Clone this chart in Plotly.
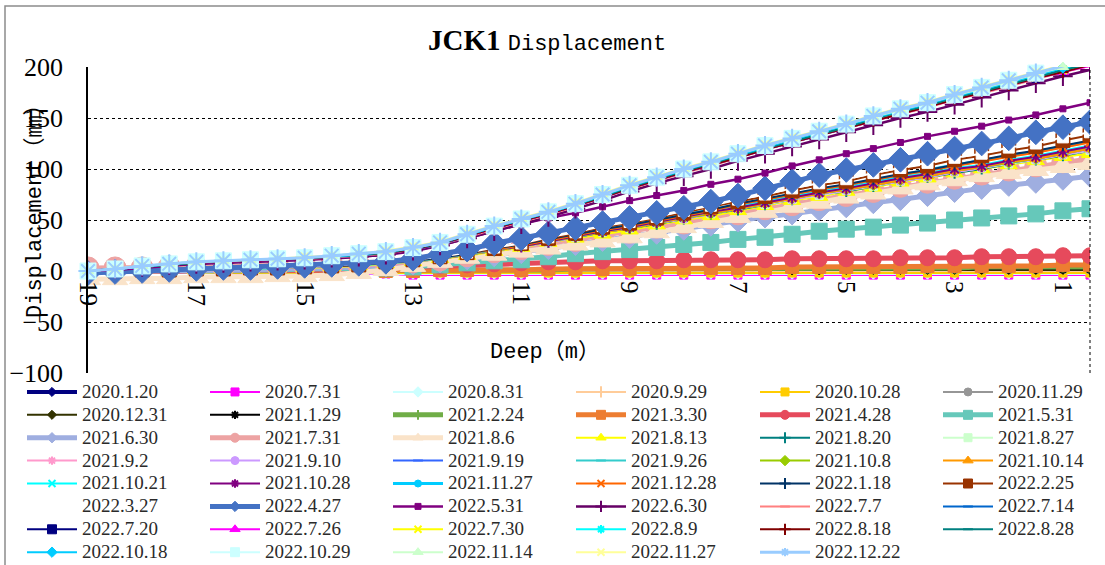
import plotly.graph_objects as go

# ---------------- data ----------------
depth_m = [19, 18.5, 18, 17.5, 17, 16.5, 16, 15.5, 15, 14.5, 14, 13.5, 13, 12.5, 12, 11.5, 11, 10.5, 10, 9.5,
           9, 8.5, 8, 7.5, 7, 6.5, 6, 5.5, 5, 4.5, 4, 3.5, 3, 2.5, 2, 1.5, 1, 0.5]
tick_depths = [19, 17, 15, 13, 11, 9, 7, 5, 3, 1]
tick_labels = ["19", "17", "15", "13", "11", "9", "7", "5", "3", "1"]

dates = ["2020.1.20", "2020.7.31", "2020.8.31", "2020.9.29", "2020.10.28", "2020.11.29",
         "2020.12.31", "2021.1.29", "2021.2.24", "2021.3.30", "2021.4.28", "2021.5.31",
         "2021.6.30", "2021.7.31", "2021.8.6", "2021.8.13", "2021.8.20", "2021.8.27",
         "2021.9.2", "2021.9.10", "2021.9.19", "2021.9.26", "2021.10.8", "2021.10.14",
         "2021.10.21", "2021.10.28", "2021.11.27", "2021.12.28", "2022.1.18", "2022.2.25",
         "2022.3.27", "2022.4.27", "2022.5.31", "2022.6.30", "2022.7.7", "2022.7.14",
         "2022.7.20", "2022.7.26", "2022.7.30", "2022.8.9", "2022.8.18", "2022.8.28",
         "2022.10.18", "2022.10.29", "2022.11.14", "2022.11.27", "2022.12.22"]

s2020_01_20 = [0,0,0,0,0,0,0,0,0,0, 0,0,0,0,0,0,0,0,0,0, 0,0,0,0,0,0,0,0,0,0, 0,0,0,0,0,0,0,0]
s2020_07_31 = [0,-1,-1,-2,-2,-2,-3,-3,-3,-3, -3,-3,-4,-4,-4,-4,-4,-4,-4,-4, -4,-4,-4,-4,-4,-4,-4,-4,-4,-4, -4,-4,-4,-4,-4,-4,-4,-4]
s2020_08_31 = [0,-1,-1,-1,-2,-2,-2,-2,-2,-2, -2,-3,-3,-3,-3,-3,-3,-3,-3,-3, -3,-3,-3,-3,-3,-3,-3,-3,-3,-3, -3,-3,-3,-3,-3,-3,-3,-3]
s2020_09_29 = [0,0,-1,-1,-1,-1,-1,-1,-1,-1, -1,-1,-1,-1,-1,-1,-1,-1,-1,-1, -1,-1,-1,-1,-1,-1,-1,-1,-1,-1, -1,-1,-1,-1,-1,-1,-1,-1]
s2020_10_28 = [0,-1,-1,-1,-1,-2,-2,-2,-2,-2, -2,-2,-2,-2,-2,-2,-2,-2,-2,-2, -2,-2,-2,-2,-2,-2,-2,-2,-2,-2, -2,-2,-2,-2,-2,-2,-2,-2]
s2020_11_29 = [0,0,0,0,0,0,0,0,0,0, 0,0,0,0,0,0,0,1,1,1, 1,1,1,1,1,1,1,1,1,1, 1,1,1,1,1,1,1,1]
s2020_12_31 = [0,0,0,0,0,0,0,0,0,0, 0,0,0,0,0,1,1,1,1,1, 1,1,1,1,1,1,1,1,1,1, 1,1,1,1,1,1,1,1]
s2021_01_29 = [0,0,0,0,0,0,0,0,0,0, 0,0,0,0,1,1,1,1,1,1, 1,1,1,1,1,1,1,1,2,2, 2,2,2,2,2,2,2,2]
s2021_02_24 = [0,0,0,0,0,0,0,0,0,0, 0,0,0,1,1,1,1,1,2,2, 2,2,2,2,2,3,3,3,3,3, 3,3,3,4,4,4,4,4]
s2021_03_30 = [0,0,0,0,0,0,0,0,0,0, 0,0,0,1,1,1,1,2,2,2, 2,3,3,3,3,3,4,4,4,4, 4,5,5,5,5,5,6,6]
s2021_04_28 = [0,0,0,0,0,0,0,1,1,1, 2,3,4,5,6,7,8,9,9,10, 10,10,11,11,11,11,12,12,12,12, 13,13,13,14,14,14,15,15]
s2021_05_31 = [0,0,0,0,1,1,1,1,2,2, 3,3,4,6,8,10,11,14,17,19, 21,23,26,28,31,33,36,39,41,43, 45,47,50,52,54,56,59,61]
s2021_06_30 = [0,0,0,0,1,1,1,2,2,3, 4,5,7,9,12,15,18,22,26,30, 33,37,41,45,49,53,56,60,63,67, 70,74,78,81,84,87,90,93]
s2021_07_31 = [3,3,3,4,4,4,5,5,5,6, 6,7,9,11,15,19,22,26,30,34, 38,43,47,52,56,61,65,70,74,78, 83,87,91,95,99,103,107,110]
s2021_08_06 = [-8,-8,-7,-7,-6,-6,-6,-5,-5,-4, -2,1,5,9,13,16,19,22,26,29, 33,38,43,48,53,58,63,67,72,76, 81,85,89,93,96,99,102,105]
s2021_08_13 = [0,0,0,1,1,2,2,3,3,4, 5,7,9,12,15,19,23,28,32,36, 40,45,50,54,59,64,69,73,78,82, 87,91,96,100,104,108,112,115]
s2021_08_20 = [0,0,1,1,2,2,3,3,4,5, 6,8,9,12,16,20,24,28,33,38, 42,46,51,56,60,65,70,75,78,83, 88,92,96,100,105,109,113,118]
s2021_08_27 = [0,0,1,1,2,2,3,3,4,5, 6,8,9,12,16,20,24,28,33,38, 42,47,51,56,61,65,70,74,79,83, 88,92,97,101,105,109,114,118]
s2021_09_02 = [0,0,1,1,2,2,3,3,4,5, 6,8,9,12,16,20,24,28,33,38, 42,47,51,56,61,66,70,75,79,84, 88,92,97,101,106,110,114,119]
s2021_09_10 = [0,0,1,1,2,2,3,3,4,5, 6,8,9,12,16,20,24,28,33,38, 42,47,51,56,61,66,70,75,79,84, 88,92,97,101,106,109,114,119]
s2021_09_19 = [0,0,1,1,2,2,3,3,4,5, 6,8,10,12,16,20,24,29,33,38, 42,47,52,56,61,66,71,76,80,84, 89,93,98,102,106,110,115,120]
s2021_09_26 = [0,0,1,1,2,2,3,3,4,5, 6,8,10,13,16,20,24,29,34,39, 43,47,52,57,62,67,72,76,80,85, 90,94,99,103,107,111,116,121]
s2021_10_08 = [0,0,1,1,2,2,3,3,4,5, 6,8,9,12,16,20,24,29,33,38, 42,47,52,56,61,66,71,76,80,84, 89,93,98,102,106,110,115,120]
s2021_10_14 = [0,0,1,1,2,2,3,3,4,5, 6,8,10,12,16,20,24,29,34,38, 42,47,52,57,61,66,71,76,80,84, 89,93,98,102,107,110,115,120]
s2021_10_21 = [0,0,1,1,2,2,3,3,4,5, 6,8,10,13,17,21,25,30,34,39, 43,48,53,58,63,68,73,78,82,87, 92,96,101,104,109,113,118,123]
s2021_10_28 = [0,0,1,1,2,2,3,3,4,5, 6,8,10,13,17,21,24,29,34,39, 43,48,53,58,62,67,72,77,81,86, 91,95,100,103,108,112,117,122]
s2021_11_27 = [0,0,1,1,2,2,3,3,4,5, 6,8,10,13,17,21,26,31,36,41, 45,50,55,60,65,70,75,80,84,89, 94,99,104,108,113,117,122,127]
s2021_12_28 = [0,0,1,1,2,2,3,3,4,5, 6,8,10,13,17,21,25,30,35,40, 44,49,54,59,65,70,75,80,84,89, 94,98,103,107,112,116,121,126]
s2022_01_18 = [0,0,1,1,2,2,3,3,4,5, 6,8,10,13,17,22,26,31,36,41, 45,50,55,60,66,71,76,81,85,90, 95,99,104,109,114,118,123,128]
s2022_02_25 = [0,0,1,1,2,2,3,3,4,5, 6,9,11,14,18,22,27,32,37,43, 47,52,57,63,68,73,79,84,88,94, 99,103,109,113,118,122,128,133]
s2022_03_27 = [0,0,1,1,2,2,3,3,4,5, 7,9,11,14,18,23,27,33,38,44, 48,53,59,64,70,75,81,86,90,96, 101,106,111,115,121,125,131,136]
s2022_04_27 = [-2,-1,0,1,2,3,3,4,5,6, 7,9,12,16,21,27,32,37,42,47, 52,57,62,68,74,81,88,94,99,104, 109,115,120,125,130,136,141,146]
s2022_05_31 = [0,1,3,5,7,8,9,10,11,12, 14,16,19,25,32,39,46,52,57,63, 69,74,79,85,90,96,103,109,115,120, 126,132,137,142,148,153,159,165]
s2022_06_30 = [0,2,4,6,7,8,9,10,11,13, 14,16,20,25,32,39,46,53,61,69, 78,86,93,100,108,115,122,129,136,143, 150,156,163,170,177,184,191,197]
s2022_07_07 = [0,2,4,6,8,9,10,11,12,13, 15,17,21,26,33,41,48,55,63,72, 80,88,96,103,111,119,126,133,140,147, 154,160,168,174,181,188,195,201]
s2022_07_14 = [0,2,4,6,8,9,10,11,12,14, 15,18,21,26,34,42,49,56,64,72, 81,89,97,104,112,119,126,133,140,148, 155,161,169,175,182,189,196,202]
s2022_07_20 = [0,2,4,6,8,9,10,11,12,14, 16,18,21,27,34,42,49,56,64,73, 81,89,97,104,112,120,127,134,141,148, 155,162,169,176,183,189,196,202]
s2022_07_26 = [0,2,4,6,8,9,10,11,12,14, 16,18,21,27,34,42,49,56,64,72, 81,89,97,104,111,119,126,133,140,147, 154,161,168,175,182,189,195,201]
s2022_07_30 = [0,2,4,6,8,10,11,12,13,14, 16,18,22,27,35,43,50,57,65,73, 82,90,98,105,113,120,127,134,141,149, 156,162,170,176,183,190,197,203]
s2022_08_09 = [0,2,4,6,8,10,11,12,13,14, 16,18,22,27,35,43,50,57,65,74, 82,91,99,106,113,121,128,135,142,150, 157,163,171,177,184,191,198,204]
s2022_08_18 = [0,2,4,6,8,9,10,11,12,14, 16,18,21,27,34,42,49,56,64,72, 81,89,97,104,111,119,126,133,140,147, 154,161,168,175,182,189,195,202]
s2022_08_28 = [0,2,4,6,8,10,11,12,13,14, 16,18,22,27,35,43,50,57,65,73, 82,90,98,105,113,120,127,134,141,149, 156,162,170,176,183,190,197,203]
s2022_10_18 = [0,2,4,7,9,10,11,12,13,14, 16,19,22,28,35,43,50,57,65,74, 83,91,99,106,114,121,129,136,143,150, 157,164,171,178,185,192,199,206]
s2022_10_29 = [0,2,5,7,9,10,11,12,13,15, 17,19,23,28,36,44,51,58,66,75, 84,92,100,107,115,123,130,137,144,152, 159,165,173,180,187,194,201,207]
s2022_11_14 = [0,2,5,7,9,10,11,12,13,15, 17,19,23,28,36,44,51,58,66,75, 84,92,100,107,115,122,130,137,144,151, 158,165,172,179,186,193,200,207]
s2022_11_27 = [0,2,5,7,9,10,11,12,14,15, 17,20,24,29,37,45,52,59,67,76, 85,93,101,108,116,124,131,138,145,153, 160,166,174,181,188,195,202,209]
s2022_12_22 = [0,2,5,7,9,10,11,12,13,15, 17,19,23,28,36,44,51,58,66,75, 84,92,100,107,115,123,130,137,144,152, 159,165,173,180,187,194,201,208]

series_values = [s2020_01_20, s2020_07_31, s2020_08_31, s2020_09_29, s2020_10_28, s2020_11_29,
                 s2020_12_31, s2021_01_29, s2021_02_24, s2021_03_30, s2021_04_28, s2021_05_31,
                 s2021_06_30, s2021_07_31, s2021_08_06, s2021_08_13, s2021_08_20, s2021_08_27,
                 s2021_09_02, s2021_09_10, s2021_09_19, s2021_09_26, s2021_10_08, s2021_10_14,
                 s2021_10_21, s2021_10_28, s2021_11_27, s2021_12_28, s2022_01_18, s2022_02_25,
                 s2022_03_27, s2022_04_27, s2022_05_31, s2022_06_30, s2022_07_07, s2022_07_14,
                 s2022_07_20, s2022_07_26, s2022_07_30, s2022_08_09, s2022_08_18, s2022_08_28,
                 s2022_10_18, s2022_10_29, s2022_11_14, s2022_11_27, s2022_12_22]

for v in series_values:
    assert len(v) == len(depth_m), len(v)
assert len(series_values) == len(dates)

# ---------------- styles (colour, symbol, line width, marker size in plot, marker size in legend) ----------------
styles = [
    ("#000080", "diamond", 4, 7, 7), ("#FF00FF", "square", 2, 8, 8), ("#CCFFFF", "diamond", 2, 8, 8),
    ("#FFCC99", "cross-thin-open", 2, 8, 8), ("#FFCC00", "square", 2, 8, 8), ("#969696", "circle", 2, 8, 8),
    ("#333300", "diamond", 2, 7, 7), ("#000000", "asterisk-open", 2, 8, 7), ("#70AD47", "line-ns-open", 5, 8, 7),
    ("#ED7D31", "square", 5, 13, 9), ("#E64A5C", "circle", 5, 16, 9), ("#66C8BA", "square", 5, 16, 9),
    ("#9FAEE0", "diamond", 5, 17, 8), ("#EDA3A3", "circle", 5, 22, 9), ("#FAE3C9", "triangle-up", 5, 22, 9),
    ("#FFFF00", "triangle-up", 2, 15, 9), ("#008080", "cross-thin-open", 2, 8, 8), ("#CCFFCC", "square", 2, 8, 8),
    ("#FF99CC", "asterisk-open", 2, 8, 7), ("#CC99FF", "circle", 2, 8, 8), ("#3366FF", "line-ew-open", 2, 8, 7),
    ("#33CCCC", "line-ew-open", 2, 8, 7), ("#99CC00", "diamond", 2, 8, 8), ("#FF9900", "triangle-up", 2, 10, 9),
    ("#00FFFF", "x-thin-open", 2, 8, 7), ("#800080", "asterisk-open", 2, 10, 7), ("#00CCFF", "circle", 3, 6, 7),
    ("#FF6600", "x-thin-open", 2, 8, 7), ("#003366", "cross-thin-open", 2, 8, 8), ("#993300", "square", 2, 14, 9),
    ("#FFFFFF", "square", 2, 11, 8), ("#4472C4", "diamond", 5, 19, 8), ("#800080", "square", 2.5, 6, 6),
    ("#660066", "cross-thin-open", 2.5, 14, 8), ("#FF8080", "line-ew-open", 2, 8, 7), ("#0066CC", "line-ew-open", 2, 8, 7),
    ("#000080", "square", 2, 8, 9), ("#FF00FF", "triangle-up", 2, 10, 9), ("#FFFF00", "x-thin-open", 2, 8, 7),
    ("#00FFFF", "asterisk-open", 2, 8, 7), ("#800000", "cross-thin-open", 2, 8, 8), ("#008080", "line-ew-open", 2, 8, 7),
    ("#00CCFF", "diamond", 2, 8, 8), ("#CCFFFF", "square", 2, 16, 9), ("#CCFFCC", "triangle-up", 2, 10, 9),
    ("#FFFF99", "x-thin-open", 2, 8, 7), ("#99CCFF", "asterisk-open", 3, 16, 7),
]

# ---------------- layout geometry (pixels) ----------------
W, H = 1105, 565
PL, PR, PT, PB = 88, 1090, 67, 373


def px(x):
    return (x - PL) / (PR - PL)


def py(y):
    return (PB - y) / (PB - PT)


fig = go.Figure()
ncol = 6

# plotted series (legend entries are drawn by separate legend-only items below)
for i, (name, vals) in enumerate(zip(dates, series_values)):
    color, sym, lw, ms, lms = styles[i]
    is_open = sym.endswith("-open")
    fig.add_trace(go.Scatter(
        x=depth_m, y=vals, mode="lines+markers", name=name, showlegend=False,
        line=dict(color=color, width=lw),
        marker=dict(symbol=sym, size=ms, color=color,
                    line=dict(color=color, width=2 if is_open else 1)),
        cliponaxis=max(vals) <= 200, hoverinfo="skip",
    ))

# legend-only items (no data points), six column legends
for i, name in enumerate(dates):
    color, sym, lw, ms, lms = styles[i]
    is_open = sym.endswith("-open")
    leg = "legend" if i % ncol == 0 else "legend%d" % (i % ncol + 1)
    fig.add_trace(go.Scatter(
        x=[None], y=[None], mode="lines+markers",
        name='<span style="font-size:19px">%s</span>' % name,
        line=dict(color=color, width=lw),
        marker=dict(symbol=sym, size=lms, color=color,
                    line=dict(color=color, width=2 if is_open else 1)),
        legend=leg, showlegend=True, hoverinfo="skip",
    ))

col_starts = [22, 205, 388, 571, 755, 938]
legends = {}
for k in range(ncol):
    key = "legend" if k == 0 else "legend%d" % (k + 1)
    legends[key] = dict(
        x=px(col_starts[k]), xanchor="left", y=py(375.5), yanchor="top",
        orientation="v", bgcolor="rgba(0,0,0,0)", borderwidth=0,
        font=dict(family="Liberation Serif", size=15.3, color="#2a2a2a"),
        itemwidth=50, itemsizing="trace", tracegroupgap=0,
    )

cjk_mono = "Liberation Mono, Noto Sans CJK SC"

fig.update_layout(
    width=W, height=H,
    margin=dict(l=PL, r=W - PR, t=PT, b=H - PB, pad=0, autoexpand=False),
    paper_bgcolor="white", plot_bgcolor="white",
    showlegend=True,
    xaxis=dict(range=[19, 0.5], tickmode="array", tickvals=tick_depths, ticktext=tick_labels,
               tickangle=90, anchor="free", position=1 / 3, showgrid=False, zeroline=False,
               showline=False, ticks="", ticklabelstandoff=9,
               tickfont=dict(family="Liberation Serif", size=25, color="black")),
    yaxis=dict(range=[-100, 200], tick0=0, dtick=50, showgrid=True, gridcolor="black",
               griddash="dot", gridwidth=1, zeroline=False, showline=True, linecolor="black",
               linewidth=1.5, ticks="", ticklabelstandoff=18,
               tickfont=dict(family="Liberation Serif", size=26, color="black")),
    shapes=[
        dict(type="line", xref="paper", yref="paper", x0=1, x1=1, y0=0, y1=1,
             line=dict(color="black", width=1, dash="dot")),
        dict(type="rect", xref="paper", yref="paper", x0=px(5), x1=px(1115), y0=py(575), y1=py(6),
             line=dict(color="#8c8c8c", width=1.5)),
    ],
    annotations=[
        dict(x=px(547), y=py(40), xref="paper", yref="paper", showarrow=False,
             xanchor="center", yanchor="middle",
             text='<b>JCK1</b> <span style="font-family:Liberation Mono;font-size:22px">Displacement</span>',
             font=dict(family="Liberation Serif", size=29, color="black")),
        dict(x=px(35), y=py(206), xref="paper", yref="paper", showarrow=False, textangle=-90,
             xanchor="center", yanchor="middle", text="Displacement（㎜）",
             font=dict(family=cjk_mono, size=22, color="black")),
        dict(x=px(545), y=py(352), xref="paper", yref="paper", showarrow=False,
             xanchor="center", yanchor="middle", text="Deep（m）",
             font=dict(family=cjk_mono, size=22, color="black")),
    ],
    **legends,
)

fig.write_html("out.html")
